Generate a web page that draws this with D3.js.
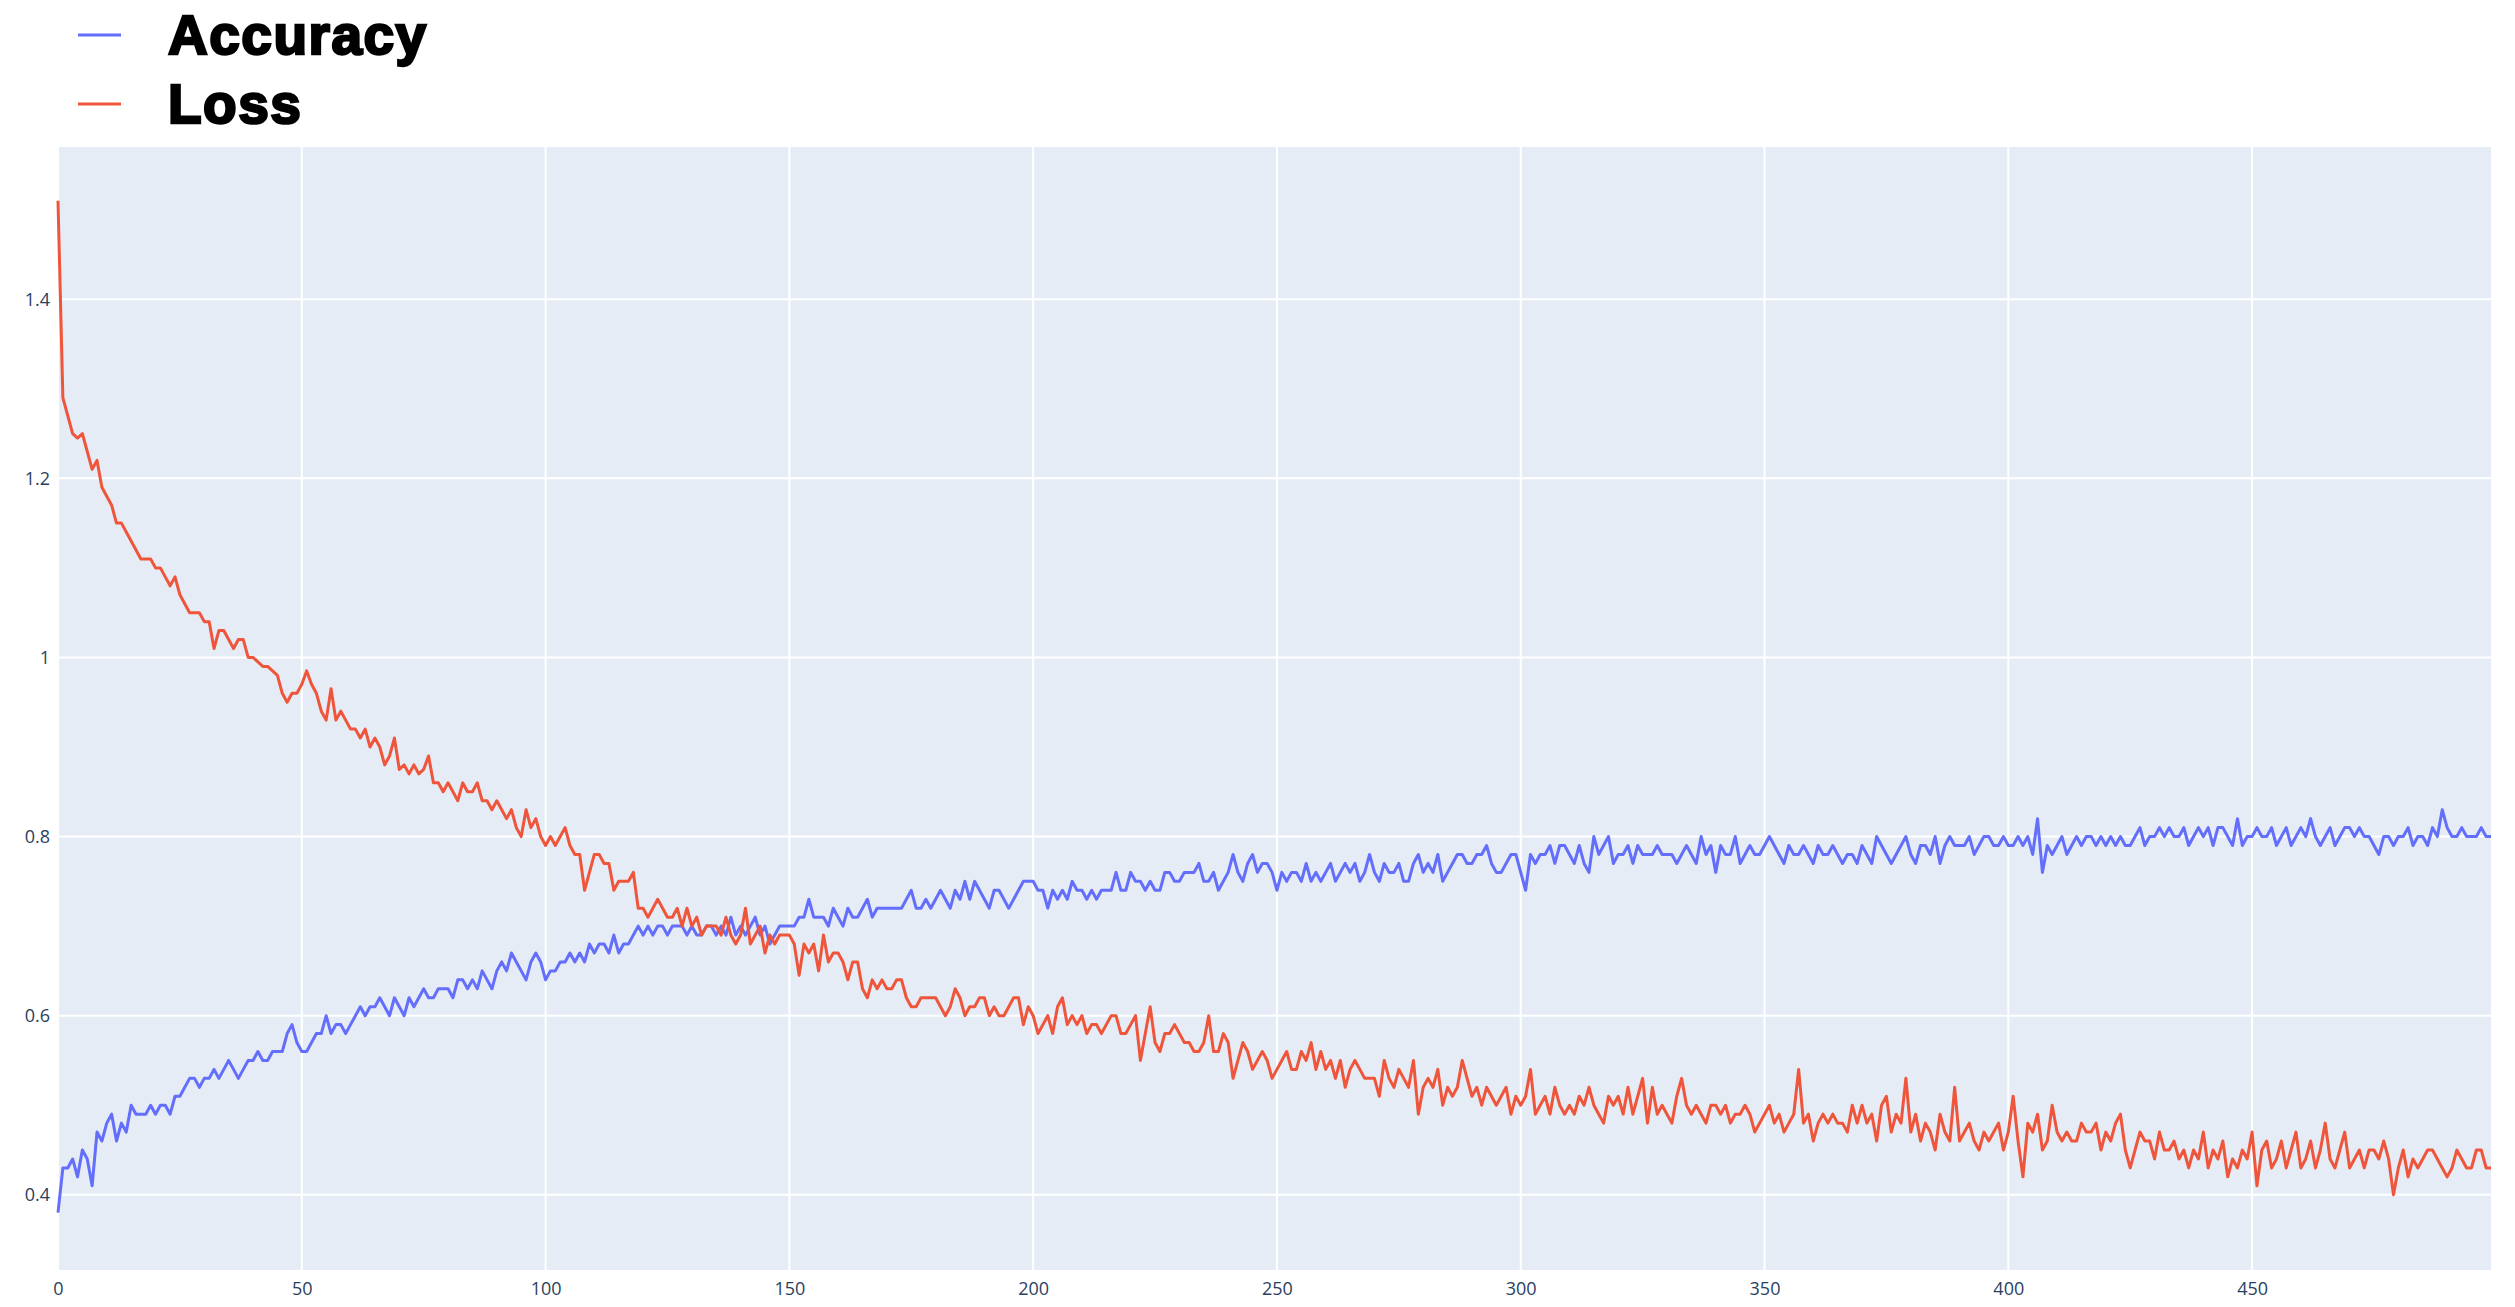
<!DOCTYPE html>
<html><head><meta charset="utf-8">
<script src="https://cdn.jsdelivr.net/npm/d3@7"></script>
<style>body{margin:0;background:#fff}svg{display:block}</style>
</head><body><svg id="c" width="2515" height="1307"></svg>
<script>
const seriesNames = ["Accuracy","Loss"];
const accuracy = [
.38,.43,.43,.44,.42,.45,.44,.41,.47,.46,
.48,.49,.46,.48,.47,.50,.49,.49,.49,.50,
.49,.50,.50,.49,.51,.51,.52,.53,.53,.52,
.53,.53,.54,.53,.54,.55,.54,.53,.54,.55,
.55,.56,.55,.55,.56,.56,.56,.58,.59,.57,
.56,.56,.57,.58,.58,.60,.58,.59,.59,.58,
.59,.60,.61,.60,.61,.61,.62,.61,.60,.62,
.61,.60,.62,.61,.62,.63,.62,.62,.63,.63,
.63,.62,.64,.64,.63,.64,.63,.65,.64,.63,
.65,.66,.65,.67,.66,.65,.64,.66,.67,.66,
.64,.65,.65,.66,.66,.67,.66,.67,.66,.68,
.67,.68,.68,.67,.69,.67,.68,.68,.69,.70,
.69,.70,.69,.70,.70,.69,.70,.70,.70,.69,
.70,.69,.69,.70,.70,.69,.70,.69,.71,.69,
.70,.69,.70,.71,.69,.70,.68,.69,.70,.70,
.70,.70,.71,.71,.73,.71,.71,.71,.70,.72,
.71,.70,.72,.71,.71,.72,.73,.71,.72,.72,
.72,.72,.72,.72,.73,.74,.72,.72,.73,.72,
.73,.74,.73,.72,.74,.73,.75,.73,.75,.74,
.73,.72,.74,.74,.73,.72,.73,.74,.75,.75,
.75,.74,.74,.72,.74,.73,.74,.73,.75,.74,
.74,.73,.74,.73,.74,.74,.74,.76,.74,.74,
.76,.75,.75,.74,.75,.74,.74,.76,.76,.75,
.75,.76,.76,.76,.77,.75,.75,.76,.74,.75,
.76,.78,.76,.75,.77,.78,.76,.77,.77,.76,
.74,.76,.75,.76,.76,.75,.77,.75,.76,.75,
.76,.77,.75,.76,.77,.76,.77,.75,.76,.78,
.76,.75,.77,.76,.76,.77,.75,.75,.77,.78,
.76,.77,.76,.78,.75,.76,.77,.78,.78,.77,
.77,.78,.78,.79,.77,.76,.76,.77,.78,.78,
.76,.74,.78,.77,.78,.78,.79,.77,.79,.79,
.78,.77,.79,.77,.76,.80,.78,.79,.80,.77,
.78,.78,.79,.77,.79,.78,.78,.78,.79,.78,
.78,.78,.77,.78,.79,.78,.77,.80,.78,.79,
.76,.79,.78,.78,.80,.77,.78,.79,.78,.78,
.79,.80,.79,.78,.77,.79,.78,.78,.79,.78,
.77,.79,.78,.78,.79,.78,.77,.78,.78,.77,
.79,.78,.77,.80,.79,.78,.77,.78,.79,.80,
.78,.77,.79,.79,.78,.80,.77,.79,.80,.79,
.79,.79,.80,.78,.79,.80,.80,.79,.79,.80,
.79,.79,.80,.79,.80,.78,.82,.76,.79,.78,
.79,.80,.78,.79,.80,.79,.80,.80,.79,.80,
.79,.80,.79,.80,.79,.79,.80,.81,.79,.80,
.80,.81,.80,.81,.80,.80,.81,.79,.80,.81,
.80,.81,.79,.81,.81,.80,.79,.82,.79,.80,
.80,.81,.80,.80,.81,.79,.80,.81,.79,.80,
.81,.80,.82,.80,.79,.80,.81,.79,.80,.81,
.81,.80,.81,.80,.80,.79,.78,.80,.80,.79,
.80,.80,.81,.79,.80,.80,.79,.81,.80,.83,
.81,.80,.80,.81,.80,.80,.80,.81,.80,.80];
const loss = [
1.51,1.29,1.27,1.25,1.245,1.25,1.23,1.21,1.22,1.19,
1.18,1.17,1.15,1.15,1.14,1.13,1.12,1.11,1.11,1.11,
1.10,1.10,1.09,1.08,1.09,1.07,1.06,1.05,1.05,1.05,
1.04,1.04,1.01,1.03,1.03,1.02,1.01,1.02,1.02,1.00,
1.00,0.995,0.99,0.99,0.985,0.98,0.96,0.95,0.96,0.96,
0.97,0.985,0.97,0.96,0.94,0.93,0.965,0.93,0.94,0.93,
0.92,0.92,0.91,0.92,0.90,0.91,0.90,0.88,0.89,0.91,
0.875,0.88,0.87,0.88,0.87,0.875,0.89,0.86,0.86,0.85,
0.86,0.85,0.84,0.86,0.85,0.85,0.86,0.84,0.84,0.83,
0.84,0.83,0.82,0.83,0.81,0.80,0.83,0.81,0.82,0.80,
0.79,0.80,0.79,0.80,0.81,0.79,0.78,0.78,0.74,0.76,
0.78,0.78,0.77,0.77,0.74,0.75,0.75,0.75,0.76,0.72,
0.72,0.71,0.72,0.73,0.72,0.71,0.71,0.72,0.70,0.72,
0.70,0.71,0.69,0.70,0.70,0.70,0.69,0.71,0.69,0.68,
0.69,0.72,0.68,0.69,0.70,0.67,0.69,0.68,0.69,0.69,
0.69,0.68,0.645,0.68,0.67,0.68,0.65,0.69,0.66,0.67,
0.67,0.66,0.64,0.66,0.66,0.63,0.62,0.64,0.63,0.64,
0.63,0.63,0.64,0.64,0.62,0.61,0.61,0.62,0.62,0.62,
0.62,0.61,0.60,0.61,0.63,0.62,0.60,0.61,0.61,0.62,
0.62,0.60,0.61,0.60,0.60,0.61,0.62,0.62,0.59,0.61,
0.60,0.58,0.59,0.60,0.58,0.61,0.62,0.59,0.60,0.59,
0.60,0.58,0.59,0.59,0.58,0.59,0.60,0.60,0.58,0.58,
0.59,0.60,0.55,0.58,0.61,0.57,0.56,0.58,0.58,0.59,
0.58,0.57,0.57,0.56,0.56,0.57,0.60,0.56,0.56,0.58,
0.57,0.53,0.55,0.57,0.56,0.54,0.55,0.56,0.55,0.53,
0.54,0.55,0.56,0.54,0.54,0.56,0.55,0.57,0.54,0.56,
0.54,0.55,0.53,0.55,0.52,0.54,0.55,0.54,0.53,0.53,
0.53,0.51,0.55,0.53,0.52,0.54,0.53,0.52,0.55,0.49,
0.52,0.53,0.52,0.54,0.50,0.52,0.51,0.52,0.55,0.53,
0.51,0.52,0.50,0.52,0.51,0.50,0.51,0.52,0.49,0.51,
0.50,0.51,0.54,0.49,0.50,0.51,0.49,0.52,0.50,0.49,
0.50,0.49,0.51,0.50,0.52,0.50,0.49,0.48,0.51,0.50,
0.51,0.49,0.52,0.49,0.51,0.53,0.48,0.52,0.49,0.50,
0.49,0.48,0.51,0.53,0.50,0.49,0.50,0.49,0.48,0.50,
0.50,0.49,0.50,0.48,0.49,0.49,0.50,0.49,0.47,0.48,
0.49,0.50,0.48,0.49,0.47,0.48,0.49,0.54,0.48,0.49,
0.46,0.48,0.49,0.48,0.49,0.48,0.48,0.47,0.50,0.48,
0.50,0.48,0.49,0.46,0.50,0.51,0.47,0.49,0.48,0.53,
0.47,0.49,0.46,0.48,0.47,0.45,0.49,0.47,0.46,0.52,
0.46,0.47,0.48,0.46,0.45,0.47,0.46,0.47,0.48,0.45,
0.47,0.51,0.46,0.42,0.48,0.47,0.49,0.45,0.46,0.50,
0.47,0.46,0.47,0.46,0.46,0.48,0.47,0.47,0.48,0.45,
0.47,0.46,0.48,0.49,0.45,0.43,0.45,0.47,0.46,0.46,
0.44,0.47,0.45,0.45,0.46,0.44,0.45,0.43,0.45,0.44,
0.47,0.43,0.45,0.44,0.46,0.42,0.44,0.43,0.45,0.44,
0.47,0.41,0.45,0.46,0.43,0.44,0.46,0.43,0.45,0.47,
0.43,0.44,0.46,0.43,0.45,0.48,0.44,0.43,0.45,0.47,
0.43,0.44,0.45,0.43,0.45,0.45,0.44,0.46,0.44,0.40,
0.43,0.45,0.42,0.44,0.43,0.44,0.45,0.45,0.44,0.43,
0.42,0.43,0.45,0.44,0.43,0.43,0.45,0.45,0.43,0.43];
const xTicks = [0,50,100,150,200,250,300,350,400,450];
const yTicks = [0.4,0.6,0.8,1,1.2,1.4];
const colors = ["#636efa","#EF553B"];

const svg = d3.select("#c");
const L=58,T=147,R=2491,B=1270;
const x = d3.scaleLinear().domain([0,499]).range([L,R]);
const y = d3.scaleLinear().domain([0.316,1.57]).range([B,T]);
svg.append("rect").attr("x",L).attr("y",T).attr("width",R-L).attr("height",B-T).attr("fill","#E5ECF6");
const g = svg.append("g");
g.selectAll(".vx").data(xTicks).join("line").attr("x1",d=>x(d)).attr("x2",d=>x(d)).attr("y1",T).attr("y2",B).attr("stroke","#fff").attr("stroke-width",2);
g.selectAll(".hy").data(yTicks).join("line").attr("x1",L).attr("x2",R).attr("y1",d=>y(d)).attr("y2",d=>y(d)).attr("stroke","#fff").attr("stroke-width",2);
const ax = svg.append("g").attr("transform",`translate(0,${B})`).call(d3.axisBottom(x).tickValues(xTicks).tickSize(0).tickPadding(12));
const ay = svg.append("g").attr("transform",`translate(${L},0)`).call(d3.axisLeft(y).tickValues(yTicks).tickSize(0).tickPadding(8).tickFormat(d3.format("")));
[ax,ay].forEach(a=>{a.select(".domain").remove();a.selectAll("text").attr("font-family","'Open Sans',sans-serif").attr("font-size",18).attr("fill","#2a3f5f");});
const line = d3.line().x((d,i)=>x(i)).y(d=>y(d));
[accuracy,loss].forEach((s,k)=>{
  svg.append("path").datum(s).attr("d",line).attr("fill","none").attr("stroke",colors[k]).attr("stroke-width",3).attr("stroke-linejoin","round");
});
const lg = svg.append("g");
seriesNames.forEach((n,k)=>{
  const yy = 35 + k*69;
  lg.append("line").attr("x1",78).attr("x2",121).attr("y1",yy).attr("y2",yy).attr("stroke",colors[k]).attr("stroke-width",3);
  lg.append("text").attr("x",168).attr("y",yy+19).text(n).attr("font-family","'Liberation Sans',Arial,sans-serif").attr("font-weight","900").attr("font-size",55).attr("letter-spacing",1.5).attr("stroke","#000").attr("stroke-width",2.5).attr("fill","#000");
});
</script></body></html>
